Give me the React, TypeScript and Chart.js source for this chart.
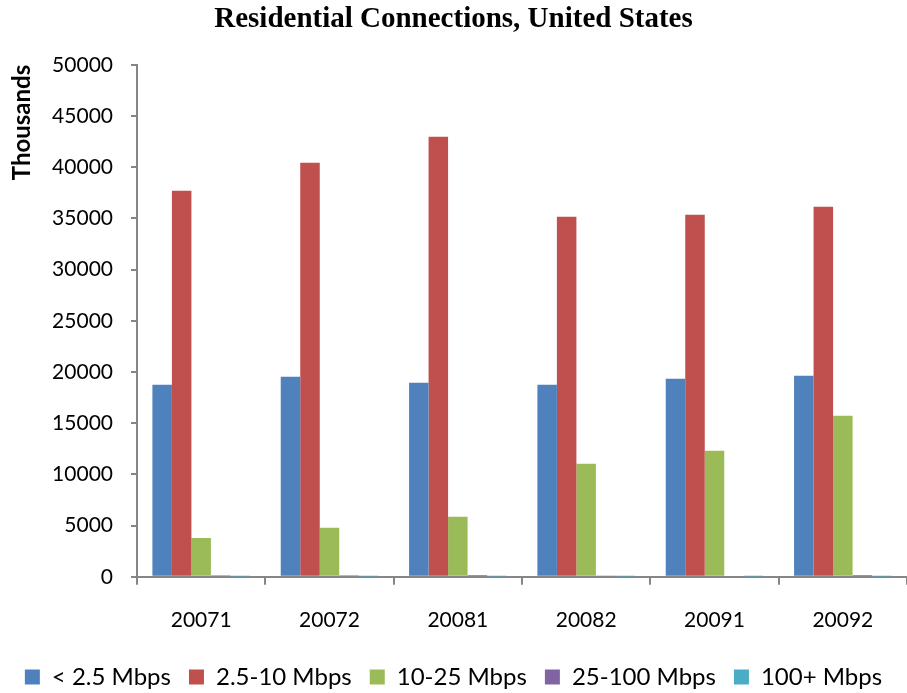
import React, { useEffect, useRef } from "react";
import { Chart, registerables } from "chart.js";

Chart.register(...registerables);

const categories = ["20071", "20072", "20081", "20082", "20091", "20092"];
const seriesNames = ["< 2.5 Mbps", "2.5-10 Mbps", "10-25 Mbps", "25-100 Mbps", "100+ Mbps"];
const below25 = [18750, 19530, 18950, 18750, 19340, 19630];
const from25to10 = [37700, 40430, 42970, 35160, 35350, 36130];
const from10to25 = [3800, 4790, 5860, 11040, 12300, 15720];
const from25to100 = [150, 160, 170, 120, 110, 180];
const over100 = [20, 20, 20, 20, 20, 20];
const seriesColors = ["#4F81BD", "#C0504D", "#9BBB59", "#8064A2", "#4BACC6"];
const yTicks = [0, 5000, 10000, 15000, 20000, 25000, 30000, 35000, 40000, 45000, 50000];

const FONT = "Lato, Carlito, 'Open Sans', sans-serif";

export default function App() {
  const ref = useRef<HTMLCanvasElement | null>(null);
  useEffect(() => {
    document.body.style.margin = "0";
    const values = [below25, from25to10, from10to25, from25to100, over100];
    const chart = new Chart(ref.current!, {
      type: "bar",
      data: {
        labels: categories,
        datasets: values.map((v, i) => ({
          label: seriesNames[i],
          data: v,
          backgroundColor: seriesColors[i],
          borderWidth: 0,
          categoryPercentage: 0.76,
          barPercentage: 1.0,
        })),
      },
      options: {
        animation: false,
        responsive: false,
        maintainAspectRatio: false,
        layout: { padding: { left: 0, right: 0, top: 0, bottom: -6 } },
        plugins: {
          title: {
            display: true,
            text: "Residential Connections, United States",
            color: "#000",
            font: { family: "'Liberation Serif', 'Times New Roman', serif", size: 29, weight: "bold" },
            padding: { top: 2, bottom: 28 },
          },
          legend: {
            position: "bottom",
            labels: {
              color: "#000",
              font: { family: FONT, size: 24 },
              boxWidth: 15,
              boxHeight: 15,
              padding: 18,
            },
          },
          tooltip: { enabled: false },
        },
        scales: {
          x: {
            afterFit: (s: any) => {
              s.height = s.height - 9;
            },
            grid: {
              display: true,
              drawOnChartArea: false,
              offset: true,
              tickLength: 8,
              color: "#868686",
              lineWidth: 2,
            },
            border: { display: true, color: "#868686", width: 2 },
            ticks: { color: "#000", font: { family: FONT, size: 21 }, padding: 23 },
          },
          y: {
            min: 0,
            max: 50000,
            afterBuildTicks: (s: any) => {
              s.ticks = yTicks.map((v) => ({ value: v }));
            },
            afterFit: (s: any) => {
              s.width = 137;
            },
            grid: {
              display: true,
              drawOnChartArea: false,
              tickLength: 6,
              color: "#868686",
              lineWidth: 2,
            },
            border: { display: true, color: "#868686", width: 2 },
            ticks: {
              color: "#000",
              font: { family: FONT, size: 21 },
              padding: 18,
              callback: (v: any) => String(v),
            },
            title: {
              display: true,
              text: "Thousands",
              align: "end",
              color: "#000",
              font: { family: FONT, size: 24, weight: "bold" },
              padding: { top: 8, bottom: 0 },
            },
          },
        },
      },
    });
    return () => chart.destroy();
  }, []);
  return (
    <div style={{ width: 907, height: 693 }}>
      <canvas ref={ref} width={907} height={693} style={{ display: "block" }} />
    </div>
  );
}
